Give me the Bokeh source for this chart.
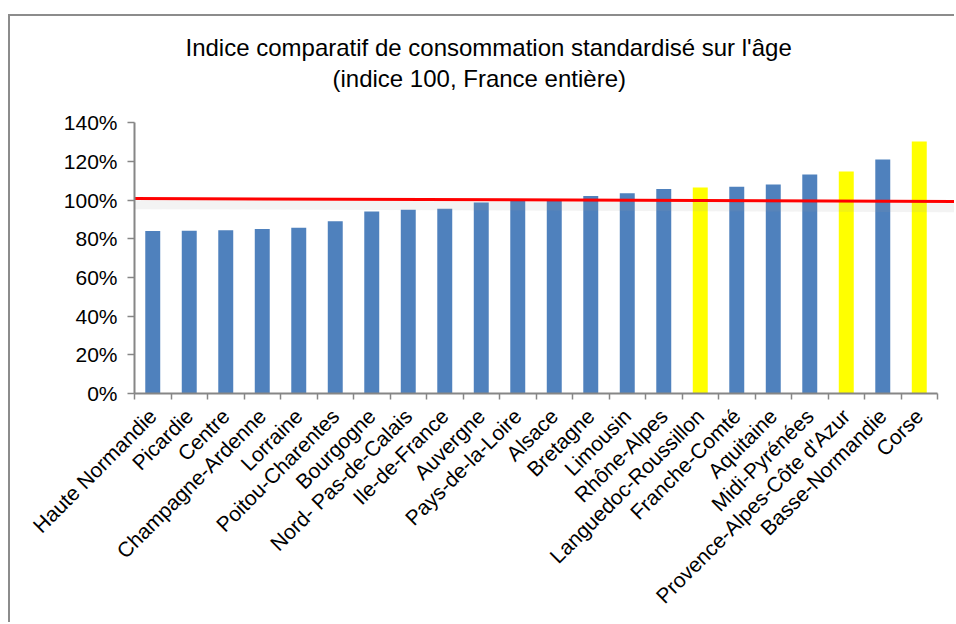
import math
from bokeh.plotting import figure
from bokeh.models import (Range1d, LinearAxis, FixedTicker, PrintfTickFormatter,
                          CustomJSTickFormatter, Title, ColumnDataSource)
from bokeh.embed import file_html
from bokeh.resources import INLINE

# ---- data ----
regions = ["Haute Normandie", "Picardie", "Centre", "Champagne-Ardenne", "Lorraine",
           "Poitou-Charentes", "Bourgogne", "Nord- Pas-de-Calais", "Ile-de-France",
           "Auvergne", "Pays-de-la-Loire", "Alsace", "Bretagne", "Limousin",
           "Rhône-Alpes", "Languedoc-Roussillon", "Franche-Comté", "Aquitaine",
           "Midi-Pyrénées", "Provence-Alpes-Côte d'Azur", "Basse-Normandie", "Corse"]
values = [84.0, 84.2, 84.4, 85.1, 85.8, 89.1, 94.1, 95.1, 95.6, 98.8, 99.8, 99.6,
          102.2, 103.6, 105.8, 106.5, 106.9, 108.1, 113.3, 114.8, 121.0, 130.4]
highlighted = ["Languedoc-Roussillon", "Provence-Alpes-Côte d'Azur", "Corse"]
y_ticks = [0, 20, 40, 60, 80, 100, 120, 140]
# hand-drawn reference line near 100 %
ref_x = [0.0, 22.6]
ref_y = [100.9, 99.3]
title_lines = ["Indice comparatif de consommation standardisé sur l'âge",
               "(indice 100, France entière)"]

BLUE = "#4F81BD"
YELLOW = "#FFFF00"
GRAY = "#868686"
FONT = "Liberation Sans"
W, H = 946, 608

n = len(regions)
centers = [i + 0.5 for i in range(n)]
colors = [YELLOW if r in highlighted else BLUE for r in regions]
src = ColumnDataSource(dict(x=centers, top=values, color=colors, name=regions))

p = figure(width=W, height=H, output_backend="svg", toolbar_location=None,
           x_range=Range1d(0, 22.52), y_range=Range1d(0, 155.7),
           x_axis_type=None, y_axis_type=None,
           min_border_left=124, min_border_right=0, min_border_top=76,
           min_border_bottom=H - 377)
p.styles = {"margin-left": "8px", "margin-top": "14px",
            "border-top": "2px solid #8c8c8c",
            "border-left": "2px solid #8c8c8c"}
p.outline_line_color = None
p.background_fill_color = "white"
p.border_fill_color = "white"
p.xgrid.visible = False
p.ygrid.visible = False

# bars
p.vbar(x="x", top="top", width=0.41, color="color", line_color=None, source=src)

# reference line with soft shadow
shadow_y = [v - 3.2 for v in ref_y]
p.line(ref_x, shadow_y, line_color="#9a9a9a", line_width=9, line_alpha=0.12)
p.line(ref_x, ref_y, line_color="#FF0000", line_width=3)

# y axis
yaxis = LinearAxis(ticker=FixedTicker(ticks=y_ticks),
                   formatter=PrintfTickFormatter(format="%d%%"),
                   bounds=(0, 140))
yaxis.axis_line_color = GRAY
yaxis.axis_line_width = 2
yaxis.major_tick_line_color = GRAY
yaxis.major_tick_line_width = 1.5
yaxis.major_tick_out = 7
yaxis.major_tick_in = 0
yaxis.minor_tick_line_color = None
yaxis.major_label_standoff = 10
yaxis.major_label_text_font = FONT
yaxis.major_label_text_font_size = "21px"
yaxis.major_label_text_color = "black"
p.add_layout(yaxis, "left")

# x axis: labels at bar centres, tick marks between categories
xaxis = LinearAxis(ticker=FixedTicker(ticks=centers, minor_ticks=list(range(n + 1))),
                   formatter=CustomJSTickFormatter(args=dict(names=regions),
                                                   code="return names[Math.floor(tick)] || '';"),
                   bounds=(0, n))
xaxis.axis_line_color = GRAY
xaxis.axis_line_width = 2
xaxis.major_tick_out = 0
xaxis.major_tick_in = 0
xaxis.major_tick_line_color = None
xaxis.minor_tick_line_color = GRAY
xaxis.minor_tick_line_width = 1.5
xaxis.minor_tick_out = 6
xaxis.minor_tick_in = 0
xaxis.major_label_orientation = math.pi / 4
xaxis.major_label_standoff = 13
xaxis.major_label_text_font = FONT
xaxis.major_label_text_font_size = "21px"
xaxis.major_label_text_color = "black"
p.add_layout(xaxis, "below")

# two-line title (second line added first so that it sits nearest the plot)
t2 = Title(text=title_lines[1], align="left", offset=198,
           text_font=FONT, text_font_size="24px", text_font_style="normal",
           text_color="black", standoff=2)
t1 = Title(text=title_lines[0], align="left", offset=51,
           text_font=FONT, text_font_size="24px", text_font_style="normal",
           text_color="black", standoff=2)
p.add_layout(t2, "above")
p.add_layout(t1, "above")

open("out.html", "w").write(file_html(p, INLINE))
